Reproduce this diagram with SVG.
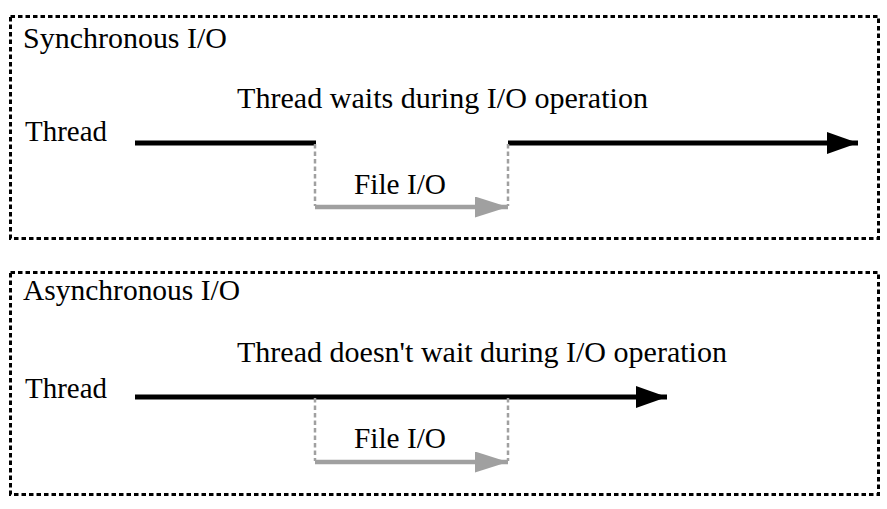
<svg xmlns="http://www.w3.org/2000/svg" width="887" height="509" viewBox="0 0 887 509">
<defs>
<marker id="ab" markerUnits="userSpaceOnUse" markerWidth="32" markerHeight="24" refX="31" refY="11" orient="auto"><path d="M0,0 L31,11 L0,22 Z" fill="#000"/></marker>
<marker id="ag" markerUnits="userSpaceOnUse" markerWidth="34" markerHeight="24" refX="33" refY="10.5" orient="auto"><path d="M0,0 L33,10.5 L0,21 Z" fill="#a0a0a0"/></marker>
</defs>
<style>
.frame{fill:none;stroke:#000;stroke-width:3;stroke-dasharray:4.5 3}
.t{font-family:"Liberation Serif","Times New Roman",serif;font-size:29px;fill:#000}
.blk{stroke:#000;stroke-width:5;fill:none}
.gry{stroke:#a0a0a0;stroke-width:4.5;fill:none}
.gd{stroke:#a0a0a0;stroke-width:2.5;stroke-dasharray:4.5 3;fill:none}
</style>
<rect width="887" height="509" fill="#fff"/>
<g id="sync">
<rect class="frame" x="10.5" y="16.5" width="868" height="222"/>
<text class="t" x="23" y="48" textLength="204" lengthAdjust="spacingAndGlyphs">Synchronous I/O</text>
<text class="t" x="237" y="108" textLength="411" lengthAdjust="spacingAndGlyphs">Thread waits during I/O operation</text>
<text class="t" x="25" y="141" textLength="82" lengthAdjust="spacingAndGlyphs">Thread</text>
<text class="t" x="354" y="194" textLength="92" lengthAdjust="spacingAndGlyphs">File I/O</text>
</g>
<g id="async">
<rect class="frame" x="10.5" y="272.5" width="868" height="222"/>
<text class="t" x="23" y="300" textLength="217" lengthAdjust="spacingAndGlyphs">Asynchronous I/O</text>
<text class="t" x="237" y="362" textLength="490" lengthAdjust="spacingAndGlyphs">Thread doesn't wait during I/O operation</text>
<text class="t" x="25" y="398" textLength="82" lengthAdjust="spacingAndGlyphs">Thread</text>
<text class="t" x="354" y="448" textLength="92" lengthAdjust="spacingAndGlyphs">File I/O</text>
</g>
<g id="connectors">
<line class="blk" x1="135" y1="143" x2="316" y2="143"/>
<line class="blk" x1="508" y1="143" x2="858" y2="143" marker-end="url(#ab)"/>
<line class="gd" x1="315" y1="144" x2="315" y2="206"/>
<line class="gd" x1="508" y1="144" x2="508" y2="206"/>
<line class="gry" x1="315" y1="207" x2="508" y2="207" marker-end="url(#ag)"/>
<line class="blk" x1="135" y1="397" x2="667" y2="397" marker-end="url(#ab)"/>
<line class="gd" x1="315" y1="398" x2="315" y2="461"/>
<line class="gd" x1="508" y1="398" x2="508" y2="461"/>
<line class="gry" x1="315" y1="462" x2="508" y2="462" marker-end="url(#ag)"/>
</g>
</svg>
